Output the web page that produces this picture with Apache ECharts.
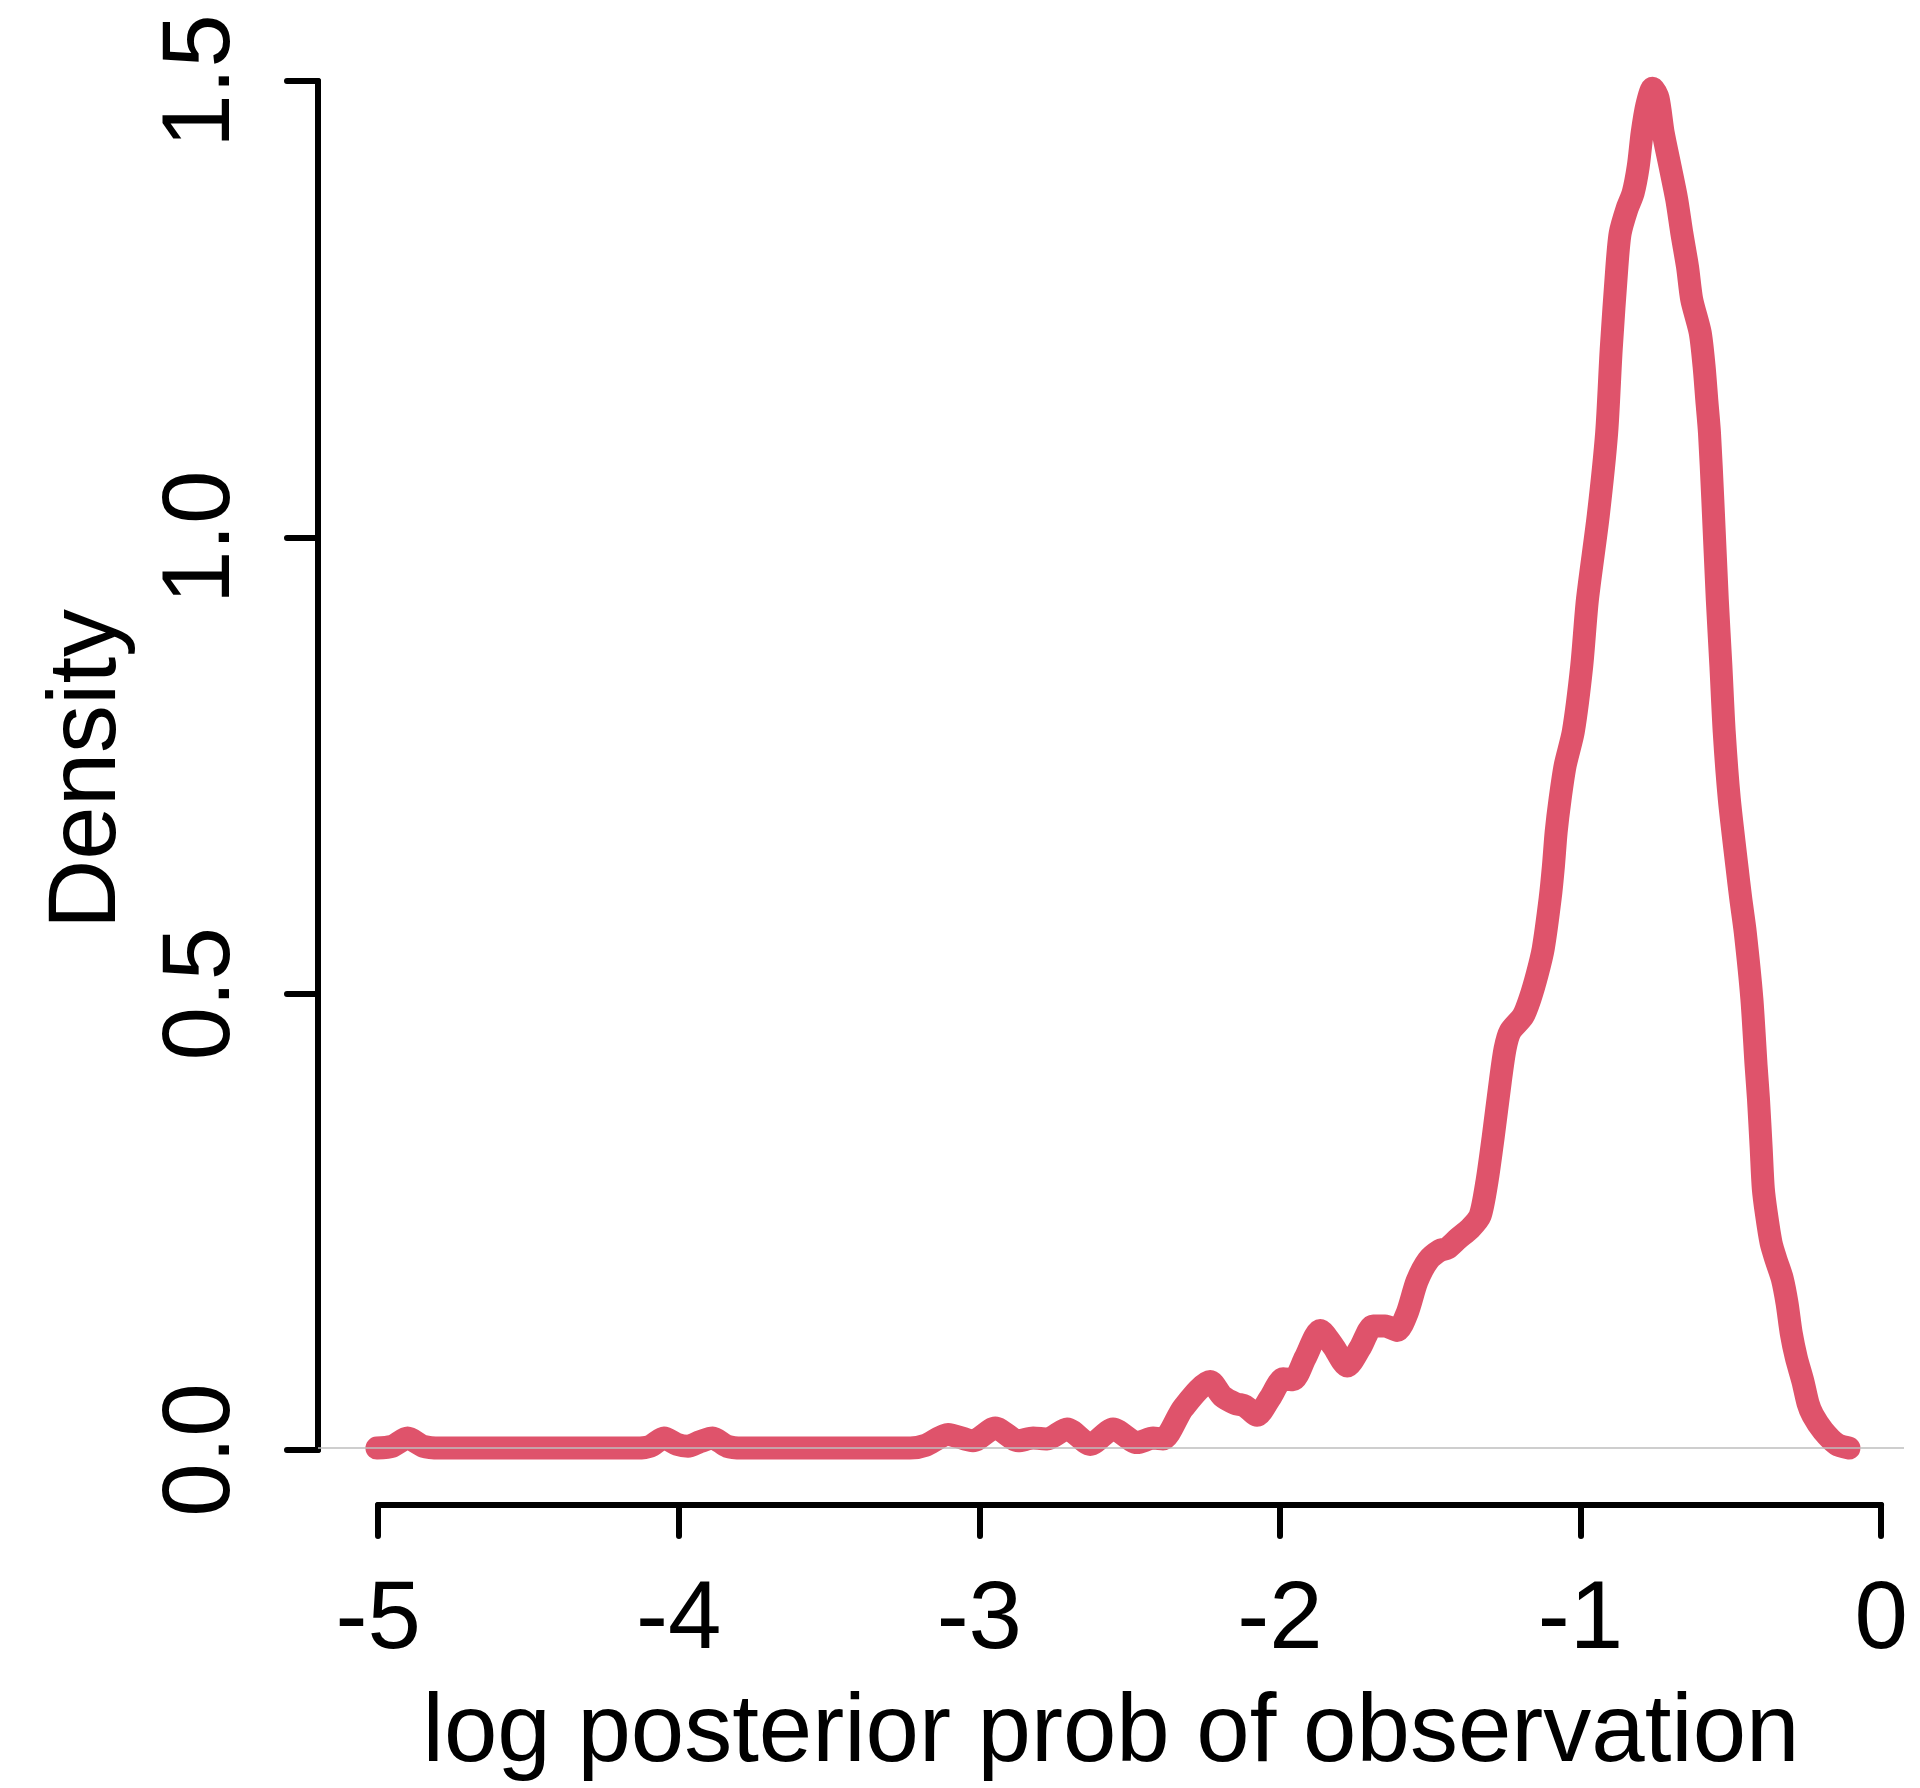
<!DOCTYPE html>
<html>
<head>
<meta charset="utf-8">
<script src="https://cdn.jsdelivr.net/npm/echarts@6/dist/echarts.min.js"></script>
<style>html,body{margin:0;padding:0;background:#fff}#c{width:1920px;height:1788px}</style>
</head>
<body>
<div id="c"></div>
<script>
// log posterior prob of observation (x) and its kernel density (y)
const logPost = [-5.004,-4.953,-4.902,-4.850,-4.794,-4.139,-4.095,-4.049,-4.005,-3.969,-3.929,-3.887,-3.839,-3.789,-3.230,
  -3.180,-3.104,-3.021,-2.947,-2.871,-2.821,-2.774,-2.708,-2.631,-2.555,-2.475,-2.422,-2.389,
  -2.322,-2.232,-2.192,-2.149,-2.116,-2.076,-2.033,-1.989,-1.956,-1.916,-1.866,-1.823,-1.776,-1.733,-1.690,-1.650,-1.610,
  -1.577,-1.544,-1.507,-1.467,-1.444,-1.407,-1.367,-1.334,-1.311,-1.291,-1.267,-1.251,-1.234,-1.191,-1.168,-1.144,-1.124,
  -1.101,-1.090,-1.081,-1.068,-1.051,-1.024,-0.996,-0.977,-0.941,-0.913,-0.898,-0.879,-0.868,-0.846,-0.825,-0.808,-0.795,
  -0.779,-0.760,-0.742,-0.725,-0.702,-0.680,-0.663,-0.644,-0.630,-0.602,-0.589,-0.580,-0.571,-0.560,-0.545,-0.533,-0.522,
  -0.505,-0.480,-0.467,-0.452,-0.430,-0.416,-0.408,-0.399,-0.392,-0.382,-0.366,-0.349,-0.329,-0.313,-0.299,-0.282,-0.260,
  -0.243,-0.227,-0.193,-0.147,-0.107];
const density = [0,0.002,0.011,0.002,0,0,0.002,0.011,0.004,0.002,0.007,0.011,0.002,0,0,
  0.003,0.015,0.008,0.022,0.008,0.011,0.010,0.021,0.004,0.021,0.006,0.011,0.010,
  0.044,0.073,0.057,0.049,0.046,0.036,0.055,0.076,0.075,0.099,0.129,0.112,0.090,0.110,0.134,0.134,0.129,
  0.148,0.183,0.206,0.217,0.219,0.230,0.241,0.255,0.293,0.340,0.402,0.438,0.457,0.474,0.493,0.520,0.548,
  0.603,0.639,0.676,0.712,0.749,0.786,0.858,0.931,1.023,1.114,1.205,1.296,1.333,1.359,1.377,1.406,1.443,
  1.474,1.492,1.481,1.443,1.406,1.370,1.333,1.296,1.260,1.224,1.187,1.150,1.114,1.041,0.931,0.858,0.786,
  0.712,0.639,0.603,0.566,0.493,0.420,0.383,0.329,0.285,0.258,0.225,0.206,0.186,0.159,0.126,0.099,0.073,
  0.049,0.036,0.019,0.004,0];
const xTickValues = [-5, -4, -3, -2, -1, 0];
const yTickValues = [0.0, 0.5, 1.0, 1.5];
const xLabel = 'log posterior prob of observation';
const yLabel = 'Density';

const FONT = '"Liberation Sans", Arial, Helvetica, sans-serif';
const PX_X = 300.6, PX_Y = 912.7;
const L = 318, W = 1586, T = 35, H = 1470;
const xMin = -5.2, xMax = xMin + W / PX_X;
const yMin = -55 / PX_Y, yMax = yMin + H / PX_Y;
const xA = L + (xTickValues[0] - xMin) * PX_X;
const xSpan = (xTickValues[xTickValues.length - 1] - xTickValues[0]) * PX_X;
const yZeroPx = T + H - 55;
const ySpan = (yTickValues[yTickValues.length - 1] - yTickValues[0]) * PX_Y;

const black = '#000';
const txt = {fontSize: 96, fontFamily: FONT, color: black, lineHeight: 96};
const axLine = {color: black, width: 6, cap: 'round'};

const chart = echarts.init(document.getElementById('c'), null, {renderer: 'canvas'});
chart.setOption({
  animation: false,
  backgroundColor: '#fff',
  grid: [
    {left: L, top: T, width: W, height: H},
    {left: xA, top: T, width: xSpan, height: H},
    {left: L, top: yZeroPx - ySpan, width: W, height: ySpan}
  ],
  xAxis: [
    {gridIndex: 0, type: 'value', min: xMin, max: xMax,
     axisLine: {show: false}, axisTick: {show: false}, axisLabel: {show: false}, splitLine: {show: false},
     name: xLabel, nameLocation: 'middle', nameGap: 184, nameTextStyle: txt},
    {gridIndex: 1, type: 'value', min: xTickValues[0], max: xTickValues[xTickValues.length - 1], interval: 1,
     axisLine: {onZero: false, lineStyle: axLine},
     axisTick: {length: 31, lineStyle: axLine},
     axisLabel: Object.assign({margin: 69}, txt), splitLine: {show: false}},
    {gridIndex: 2, type: 'value', min: xMin, max: xMax, show: false}
  ],
  yAxis: [
    {gridIndex: 0, type: 'value', min: yMin, max: yMax,
     axisLine: {show: false}, axisTick: {show: false}, axisLabel: {show: false}, splitLine: {show: false},
     name: yLabel, nameLocation: 'middle', nameGap: 181, nameTextStyle: txt},
    {gridIndex: 1, type: 'value', min: 0, max: 1, show: false},
    {gridIndex: 2, type: 'value', min: yTickValues[0], max: yTickValues[yTickValues.length - 1], interval: 0.5,
     axisLine: {onZero: false, lineStyle: axLine},
     axisTick: {length: 31, lineStyle: axLine},
     axisLabel: Object.assign({margin: 67, rotate: 90, formatter: v => v.toFixed(1)}, txt),
     splitLine: {show: false}}
  ],
  series: [
    {type: 'line', xAxisIndex: 0, yAxisIndex: 0,
     data: logPost.map((x, i) => [x, density[i]]),
     symbol: 'none', showSymbol: false, smooth: 0.25, silent: true, clip: false,
     lineStyle: {color: '#DF536B', width: 23, cap: 'round', join: 'round'}, z: 2},
    {type: 'line', xAxisIndex: 0, yAxisIndex: 0, data: [[xMin, 0], [xMax, 0]],
     symbol: 'none', silent: true, z: 5,
     lineStyle: {color: '#BEBEBE', width: 1.5}}
  ]
});
</script>
</body>
</html>
